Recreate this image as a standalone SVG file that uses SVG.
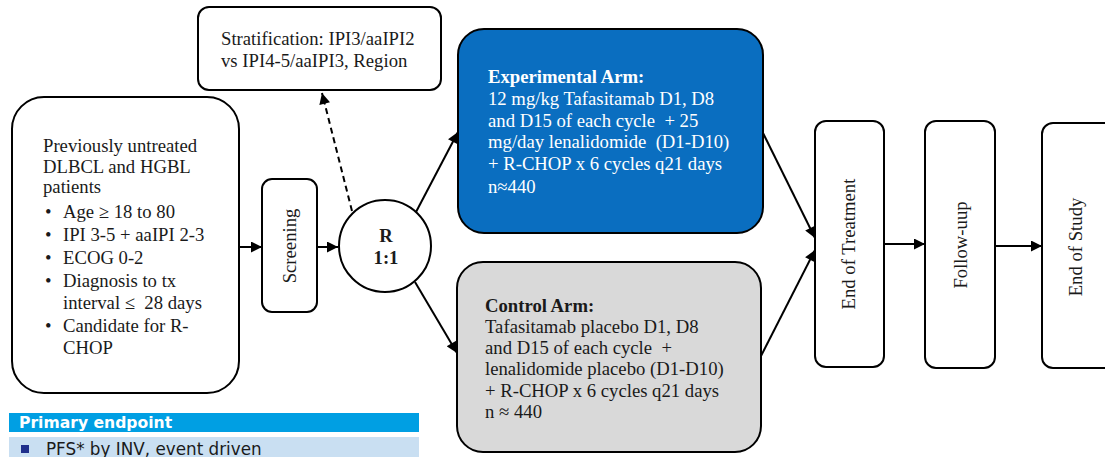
<svg xmlns="http://www.w3.org/2000/svg" width="1105" height="457" viewBox="0 0 1105 457">
<defs>
<marker id="ah" viewBox="0 0 10 10" markerUnits="userSpaceOnUse" markerWidth="13" markerHeight="11" refX="10" refY="5" orient="auto">
<path d="M0,0 L10,5 L0,10 z" fill="#000"/>
</marker>
<style>
.box{fill:#fff;stroke:#000;stroke-width:2}
.t{font-family:"Liberation Serif","Times New Roman",serif;font-size:18.7px;fill:#1a1a1a}
.w{fill:#fff}
.b{font-weight:bold}
.p{white-space:pre}
.con{stroke:#000;stroke-width:2;fill:none;marker-end:url(#ah)}
.dash{stroke-dasharray:6,4}
</style>
</defs>
<rect width="1105" height="457" fill="#fff"/>

<g id="connectors">
<line class="con" x1="240" y1="247" x2="262" y2="247"/>
<line class="con" x1="317" y1="247" x2="338" y2="247"/>
<line class="con dash" x1="352" y1="211" x2="322" y2="93"/>
<line class="con" x1="416" y1="212" x2="458" y2="132"/>
<line class="con" x1="415" y1="282" x2="457" y2="353"/>
<line class="con" x1="763" y1="133" x2="815" y2="238"/>
<line class="con" x1="761" y1="356" x2="815" y2="250"/>
<line class="con" x1="884" y1="244" x2="925" y2="244"/>
<line class="con" x1="995" y1="246" x2="1042" y2="246"/>
</g>

<g id="eligibility">
<rect class="box" x="12" y="97" width="227" height="296" rx="32"/>
<text class="t" x="43" y="152">Previously untreated</text>
<text class="t" x="43" y="173">DLBCL and HGBL</text>
<text class="t" x="43" y="193">patients</text>
<text class="t" x="45" y="218">•</text><text class="t" x="63" y="218">Age ≥ 18 to 80</text>
<text class="t" x="45" y="241">•</text><text class="t" x="63" y="241">IPI 3-5 + aaIPI 2-3</text>
<text class="t" x="45" y="264">•</text><text class="t" x="63" y="264">ECOG 0-2</text>
<text class="t" x="45" y="287">•</text><text class="t" x="63" y="287">Diagnosis to tx</text>
<text class="t p" x="63" y="309">interval ≤  28 days</text>
<text class="t" x="45" y="332">•</text><text class="t" x="63" y="332">Candidate for R-</text>
<text class="t" x="63" y="354">CHOP</text>
</g>

<g id="screening">
<rect class="box" x="262" y="179" width="55" height="133" rx="10"/>
<text class="t" x="0" y="0" text-anchor="middle" font-size="17" transform="translate(296,246) rotate(-90)">Screening</text>
</g>

<g id="randomization">
<circle class="box" cx="385" cy="246" r="46"/>
<text class="t b" x="386" y="242" text-anchor="middle" font-size="17">R</text>
<text class="t b" x="386" y="264" text-anchor="middle" font-size="17">1:1</text>
</g>

<g id="stratification">
<rect class="box" x="198" y="7" width="243" height="83" rx="11"/>
<text class="t" x="221" y="45">Stratification: IPI3/aaIPI2</text>
<text class="t" x="221" y="67">vs IPI4-5/aaIPI3, Region</text>
</g>

<g id="experimental">
<rect x="458" y="29" width="305" height="204" rx="26" fill="#0a6ec0" stroke="#000" stroke-width="2"/>
<text class="t w b" x="488" y="83">Experimental Arm:</text>
<text class="t w" x="488" y="105">12 mg/kg Tafasitamab D1, D8</text>
<text class="t w p" x="488" y="127">and D15 of each cycle  + 25</text>
<text class="t w p" x="488" y="148">mg/day lenalidomide  (D1-D10)</text>
<text class="t w" x="488" y="170">+ R-CHOP x 6 cycles q21 days</text>
<text class="t w" x="488" y="193">n≈440</text>
</g>

<g id="control">
<rect x="457" y="262" width="304" height="190" rx="26" fill="#d9d9d9" stroke="#000" stroke-width="2"/>
<text class="t b" x="485" y="312">Control Arm:</text>
<text class="t" x="485" y="333">Tafasitamab placebo D1, D8</text>
<text class="t p" x="485" y="354">and D15 of each cycle  +</text>
<text class="t" x="485" y="375">lenalidomide placebo (D1-D10)</text>
<text class="t" x="485" y="397">+ R-CHOP x 6 cycles q21 days</text>
<text class="t" x="485" y="418">n ≈ 440</text>
</g>

<g id="end-of-treatment">
<rect class="box" x="815" y="121" width="69" height="246" rx="11"/>
<text class="t" x="0" y="0" text-anchor="middle" font-size="19" transform="translate(855,244) rotate(-90)">End of Treatment</text>
</g>

<g id="follow-up">
<rect class="box" x="925" y="121" width="70" height="247" rx="11"/>
<text class="t" x="0" y="0" text-anchor="middle" font-size="19" transform="translate(967,245) rotate(-90)">Follow-uup</text>
</g>

<g id="end-of-study">
<rect class="box" x="1042" y="123" width="75" height="245" rx="11"/>
<text class="t" x="0" y="0" text-anchor="middle" font-size="19" transform="translate(1082,247) rotate(-90)">End of Study</text>
</g>

<g id="primary-endpoint">
<rect x="9" y="413" width="410" height="19" fill="#009fe3"/>
<text x="19" y="427.5" font-family="'DejaVu Sans',Verdana,sans-serif" font-weight="bold" font-size="15.6" fill="#fff">Primary endpoint</text>
<rect x="9" y="437" width="410" height="20" fill="#c9dff2"/>
<rect x="21" y="445" width="8" height="8" fill="#1f2f8c"/>
<text x="46" y="455" font-family="'DejaVu Sans',Verdana,sans-serif" font-size="16.8" fill="#1a1a1a">PFS* by INV, event driven</text>
</g>
</svg>
